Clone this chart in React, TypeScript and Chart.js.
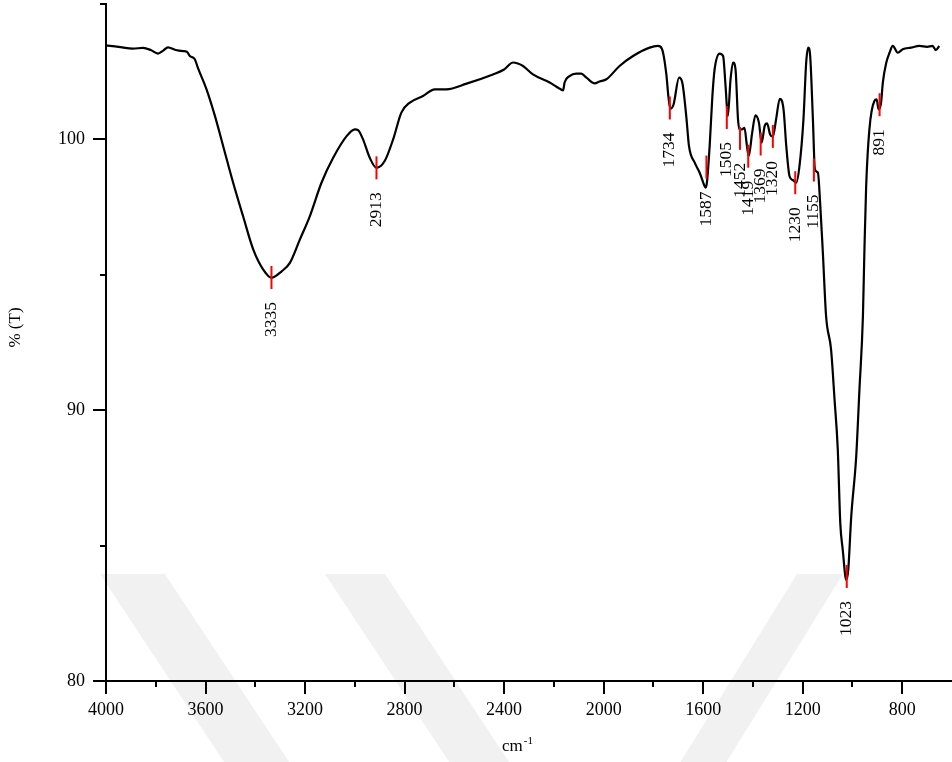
import React, { useEffect, useRef } from 'react';
import { Chart, registerables } from 'chart.js';

Chart.register(...registerables);

// Spectrum (wavenumber in cm-1, transmittance in %)
const wavenumbers = [
  4000, 3950, 3892, 3851, 3820, 3791, 3770, 3751, 3720, 3690, 3675, 3663, 3643, 3631,
  3596, 3562, 3529, 3489, 3449, 3408, 3368, 3335, 3294, 3261, 3221, 3181, 3134, 3087,
  3033, 3000, 2987, 2967, 2940, 2913, 2880, 2846, 2813, 2779, 2726, 2679, 2632, 2551,
  2445, 2400, 2364, 2345, 2324, 2284, 2217, 2183, 2163, 2157, 2137, 2110, 2090, 2069,
  2036, 2016, 1989, 1936, 1882, 1815, 1782, 1766, 1748, 1740, 1732, 1719, 1697, 1684,
  1668, 1657, 1634, 1614, 1594, 1590, 1585, 1574, 1563, 1554, 1534, 1520, 1510, 1501,
  1490, 1480, 1470, 1460, 1454, 1443, 1434, 1425, 1417, 1403, 1390, 1376, 1365, 1353,
  1343, 1331, 1320, 1307, 1292, 1277, 1266, 1253, 1240, 1226, 1213, 1197, 1186, 1178,
  1170, 1159, 1151, 1139, 1130, 1119, 1106, 1086, 1072, 1059, 1049, 1039, 1025, 1017,
  1005, 985, 972, 958, 952, 945, 932, 912, 903, 895, 885, 878, 864, 851,
  838, 818, 798, 765, 731, 700, 678, 665, 651,
];
const transmittance = [
  103.47, 103.42, 103.35, 103.38, 103.3, 103.17, 103.28, 103.4, 103.3, 103.26, 103.24, 103.08, 102.96, 102.65,
  101.85, 100.86, 99.75, 98.4, 97.16, 95.93, 95.19, 94.89, 95.13, 95.44, 96.3, 97.16, 98.4, 99.32,
  100.12, 100.37, 100.34, 100.0, 99.32, 98.95, 99.2, 100.0, 100.99, 101.36, 101.6, 101.85, 101.85, 102.06,
  102.4, 102.58, 102.84, 102.8, 102.71, 102.4, 102.1, 101.91, 101.81, 102.1, 102.34, 102.43, 102.43, 102.28,
  102.07, 102.14, 102.22, 102.71, 103.08, 103.39, 103.45, 103.35, 102.4, 101.6, 101.13, 101.29, 102.28, 102.1,
  100.86, 99.75, 99.14, 98.77, 98.27, 98.22, 98.4, 99.75, 101.6, 102.59, 103.17, 103.08, 101.97, 100.86,
  102.22, 102.84, 102.59, 100.74, 100.37, 100.37, 100.43, 99.82, 99.38, 100.25, 100.89, 100.62, 99.88, 100.49,
  100.59, 100.18, 100.1, 100.74, 101.5, 101.11, 99.75, 98.64, 98.5, 98.4, 99.01, 100.74, 102.84, 103.39,
  103.08, 100.74, 98.89, 98.77, 97.66, 95.81, 93.47, 92.24, 90.39, 88.54, 85.83, 84.84, 83.73, 84.1,
  86.07, 88.29, 90.76, 93.47, 95.9, 98.27, 100.37, 101.42, 101.48, 101.11, 101.36, 102.1, 102.84, 103.2,
  103.45, 103.2, 103.33, 103.39, 103.45, 103.42, 103.45, 103.3, 103.45,
];

// Peak annotations
const peakPositions = [3335, 2913, 1734, 1587, 1505, 1452, 1419, 1369, 1320, 1230, 1155, 1023, 891];
const peakMarkerT = [94.9, 98.95, 101.16, 98.98, 100.81, 100.04, 99.38, 99.83, 100.11, 98.4, 98.87, 83.86, 101.28];
const peakLabels = ['3335', '2913', '1734', '1587', '1505', '1452', '1419', '1369', '1320', '1230', '1155', '1023', '891'];

// Axis ticks
const xMajorTicks = [4000, 3600, 3200, 2800, 2400, 2000, 1600, 1200, 800];
const xMinorTicks = [3800, 3400, 3000, 2600, 2200, 1800, 1400, 1000];
const yMajorTicks = [80, 90, 100];
const yMinorTicks = [85, 95, 105];

const FONT = '"Liberation Serif", "Times New Roman", serif';

// faint background watermark bands (decoration, page pixels): [topLeftX, topRightX, slope dx/dy]
const watermarkBands: [number, number, number][] = [
  [100, 165, 0.66],
  [325, 385, 0.66],
  [797, 843, -0.62],
];

const decorPlugin = {
  id: 'decor',
  beforeDraw(chart: any) {
    const { ctx, height } = chart;
    const top = 574;
    ctx.save();
    ctx.fillStyle = '#f1f1f1';
    watermarkBands.forEach(([a, b, s]) => {
      const d = (height - top) * s;
      ctx.beginPath();
      ctx.moveTo(a, top);
      ctx.lineTo(b, top);
      ctx.lineTo(b + d, height);
      ctx.lineTo(a + d, height);
      ctx.closePath();
      ctx.fill();
    });
    ctx.restore();
  },
  afterDatasetsDraw(chart: any) {
    const { ctx } = chart;
    const xs = chart.scales.x;
    const ys = chart.scales.y;
    ctx.save();
    ctx.strokeStyle = '#ff0000';
    ctx.lineWidth = 2;
    ctx.fillStyle = '#000';
    ctx.font = `17.5px ${FONT}`;
    peakPositions.forEach((p, i) => {
      const px = xs.getPixelForValue(p);
      const py = ys.getPixelForValue(peakMarkerT[i]);
      ctx.beginPath();
      ctx.moveTo(px, py - 11.5);
      ctx.lineTo(px, py + 11.5);
      ctx.stroke();
      ctx.save();
      ctx.translate(px, py + 11.5 + 13);
      ctx.rotate(-Math.PI / 2);
      ctx.textAlign = 'right';
      ctx.textBaseline = 'middle';
      ctx.fillText(peakLabels[i], 0, 0);
      ctx.restore();
    });
    ctx.restore();
  },
  afterDraw(chart: any) {
    const { ctx } = chart;
    const xs = chart.scales.x;
    const ys = chart.scales.y;
    ctx.save();
    ctx.strokeStyle = '#000';
    ctx.lineWidth = 2;
    ctx.beginPath();
    xMajorTicks.forEach((v) => {
      const px = Math.round(xs.getPixelForValue(v));
      ctx.moveTo(px, ys.bottom);
      ctx.lineTo(px, ys.bottom + 13);
    });
    xMinorTicks.forEach((v) => {
      const px = Math.round(xs.getPixelForValue(v));
      ctx.moveTo(px, ys.bottom);
      ctx.lineTo(px, ys.bottom + 6);
    });
    yMajorTicks.forEach((v) => {
      const py = Math.round(ys.getPixelForValue(v));
      ctx.moveTo(xs.left, py);
      ctx.lineTo(xs.left - 13, py);
    });
    yMinorTicks.forEach((v) => {
      const py = Math.round(ys.getPixelForValue(v));
      ctx.moveTo(xs.left, py);
      ctx.lineTo(xs.left - 6, py);
    });
    ctx.stroke();

    // axis titles
    ctx.fillStyle = '#000';
    ctx.font = `17px ${FONT}`;
    ctx.save();
    ctx.translate(xs.left - 90, (ys.top + ys.bottom) / 2 - 15);
    ctx.rotate(-Math.PI / 2);
    ctx.textAlign = 'center';
    ctx.textBaseline = 'middle';
    ctx.fillText('% (T)', 0, 0);
    ctx.restore();

    const cx = (xs.left + xs.right) / 2 - 12;
    ctx.textBaseline = 'alphabetic';
    ctx.textAlign = 'left';
    const w1 = ctx.measureText('cm').width;
    ctx.font = `11px ${FONT}`;
    const w2 = ctx.measureText('-1').width;
    const start = cx - (w1 + w2) / 2;
    ctx.font = `17px ${FONT}`;
    ctx.fillText('cm', start, ys.bottom + 70);
    ctx.font = `11px ${FONT}`;
    ctx.fillText('-1', start + w1 + 1, ys.bottom + 63);
    ctx.restore();
  },
};

export default function App() {
  const canvasRef = useRef<HTMLCanvasElement>(null);

  useEffect(() => {
    const canvas = canvasRef.current;
    if (!canvas) return;
    const chart = new Chart(canvas, {
      type: 'line',
      data: {
        datasets: [
          {
            data: wavenumbers.map((w, i) => ({ x: w, y: transmittance[i] })),
            borderColor: '#000',
            borderWidth: 2.2,
            pointRadius: 0,
            fill: false,
            cubicInterpolationMode: 'monotone',
          },
        ],
      },
      options: {
        animation: false,
        responsive: false,
        devicePixelRatio: 1,
        layout: { padding: { top: 4, right: 0, left: 0, bottom: 0 } },
        plugins: { legend: { display: false }, tooltip: { enabled: false }, title: { display: false } },
        scales: {
          x: {
            type: 'linear',
            reverse: true,
            min: 600,
            max: 4000,
            grid: { display: false, drawTicks: false },
            border: { display: true, color: '#000', width: 2 },
            ticks: {
              color: '#000',
              font: { family: FONT, size: 18 },
              padding: 18,
              maxRotation: 0,
              autoSkip: false,
              callback: (v: any) => String(v),
            },
            afterBuildTicks: (scale: any) => {
              scale.ticks = xMajorTicks.map((v) => ({ value: v }));
            },
            afterFit: (scale: any) => {
              scale.height = 81;
              scale.paddingLeft = 0;
              scale.paddingRight = 0;
            },
          },
          y: {
            type: 'linear',
            min: 80,
            max: 105,
            grid: { display: false, drawTicks: false },
            border: { display: true, color: '#000', width: 2 },
            ticks: {
              color: '#000',
              font: { family: FONT, size: 18 },
              padding: 21,
              callback: (v: any) => String(v),
            },
            afterBuildTicks: (scale: any) => {
              scale.ticks = yMajorTicks.map((v) => ({ value: v }));
            },
            afterFit: (scale: any) => {
              scale.width = 106;
              scale.paddingTop = 0;
              scale.paddingBottom = 0;
            },
          },
        },
      },
      plugins: [decorPlugin],
    });
    return () => chart.destroy();
  }, []);

  return (
    <div style={{ position: 'absolute', left: 0, top: 0, width: 952, height: 762, background: '#fff' }}>
      <canvas ref={canvasRef} width={952} height={762} style={{ display: 'block' }} />
    </div>
  );
}
